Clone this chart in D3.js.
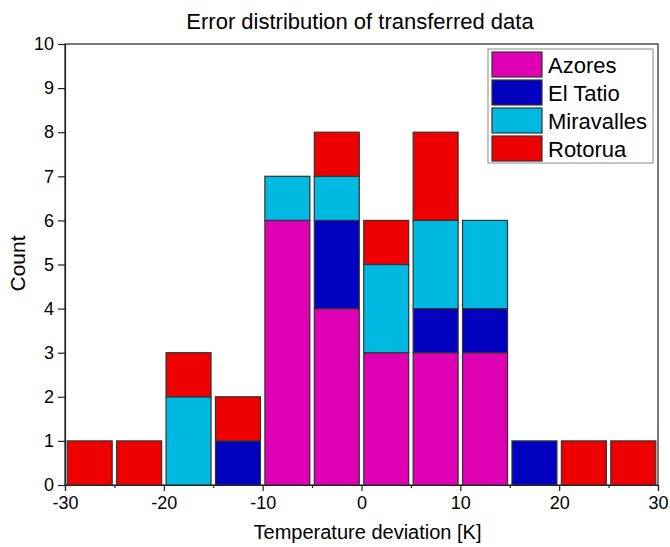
<!DOCTYPE html>
<html><head><meta charset="utf-8">
<script src="https://cdn.jsdelivr.net/npm/d3@7"></script>
<style>body{margin:0;background:#fff}svg{display:block}text{font-family:"Liberation Sans",Arial,sans-serif;fill:#000}</style>
</head><body><svg id="c" width="670" height="547"></svg>
<script>
const binStarts = [-30,-25,-20,-15,-10,-5,0,5,10,15,20,25];
const series = ["Azores","El Tatio","Miravalles","Rotorua"];
const azores     = [0,0,0,0,6,4,3,3,3,0,0,0];
const elTatio    = [0,0,0,1,0,2,0,1,1,1,0,0];
const miravalles = [0,0,2,0,1,1,2,2,2,0,0,0];
const rotorua    = [1,1,1,1,0,1,1,2,0,0,1,1];
const colors = ["#DE00B2","#0000BE","#00B9E0","#EF0000"];
const xTicks = [-30,-20,-10,0,10,20,30];
const yTicks = [0,1,2,3,4,5,6,7,8,9,10];
const binWidth = 5;

const rows = binStarts.map((b,i)=>({bin:b,"Azores":azores[i],"El Tatio":elTatio[i],"Miravalles":miravalles[i],"Rotorua":rotorua[i]}));
const stack = d3.stack().keys(series)(rows);

const svg = d3.select("#c");
const L=65,R=658,T=44,B=485;
const x = d3.scaleLinear().domain([-30,30]).range([L,R]);
const y = d3.scaleLinear().domain([0,10]).range([B,T]);
const color = d3.scaleOrdinal().domain(series).range(colors);
const fmt = d => String(d);

// frame
svg.append("rect").attr("x",L).attr("y",T).attr("width",R-L).attr("height",B-T)
  .attr("fill","none").attr("stroke","#222").attr("stroke-width",1.2);

const bw = x(binWidth)-x(0);
const g = svg.append("g");
stack.forEach(s=>{
  g.selectAll(null).data(s.filter(d=>d[1]>d[0])).join("rect")
   .attr("x",d=>x(d.data.bin)+bw*0.045)
   .attr("width",bw*0.91)
   .attr("y",d=>y(d[1]))
   .attr("height",d=>y(d[0])-y(d[1]))
   .attr("fill",color(s.key))
   .attr("stroke","#333").attr("stroke-width",1.2);
});

// axes
const xAxis = svg.append("g").attr("transform",`translate(0,${B})`)
  .call(d3.axisBottom(x).tickValues(xTicks).tickSize(6).tickPadding(5).tickFormat(fmt));
const xMinor = svg.append("g").attr("transform",`translate(0,${B})`)
  .call(d3.axisBottom(x).tickValues([-25,-15,-5,5,15,25]).tickSize(3).tickFormat(""));
xMinor.select(".domain").remove();
const yAxis = svg.append("g").attr("transform",`translate(${L},0)`)
  .call(d3.axisLeft(y).tickValues(yTicks).tickSize(7).tickPadding(4).tickFormat(fmt));
[xAxis,yAxis,xMinor].forEach(a=>{
  a.selectAll("path,line").attr("stroke","#222").attr("stroke-width",1.2);
  a.selectAll("text").style("font-family","'Liberation Sans',Arial,sans-serif").style("font-size","18px").attr("fill","#000");
});

// title & labels
svg.append("text").attr("x",360).attr("y",29).attr("text-anchor","middle").style("font-size","22px").text("Error distribution of transferred data");
svg.append("text").attr("x",(L+R)/2+6).attr("y",539).attr("text-anchor","middle").style("font-size","20px").text("Temperature deviation [K]");
svg.append("text").attr("transform",`translate(25,${(T+B)/2-1}) rotate(-90)`).attr("text-anchor","middle").style("font-size","21px").text("Count");

// legend
const lg = svg.append("g");
lg.append("rect").attr("x",488).attr("y",49).attr("width",165).attr("height",114).attr("fill","#fff").attr("stroke","#888").attr("stroke-width",1);
series.forEach((s,i)=>{
  lg.append("rect").attr("x",492).attr("y",52+i*28).attr("width",50).attr("height",25)
    .attr("fill",color(s)).attr("stroke","#333").attr("stroke-width",1.2);
  lg.append("text").attr("x",548).attr("y",65+i*28).attr("dy","0.36em").style("font-size","22px").text(s);
});
</script></body></html>
